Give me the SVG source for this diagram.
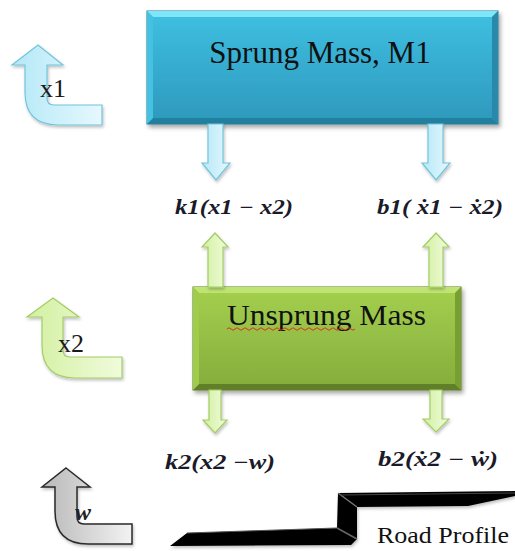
<svg xmlns="http://www.w3.org/2000/svg" width="515" height="551" viewBox="0 0 515 551">
<defs>
<linearGradient id="gBlue" x1="0" y1="0" x2="0" y2="1"><stop offset="0" stop-color="#3ec0e2"/><stop offset="1" stop-color="#2e98bc"/></linearGradient>
<linearGradient id="gGreen" x1="0" y1="0" x2="0" y2="1"><stop offset="0" stop-color="#a4d04e"/><stop offset="1" stop-color="#84ac3c"/></linearGradient>
<linearGradient id="gLB" x1="0" y1="0" x2="1" y2="0"><stop offset="0" stop-color="#b4e8f7"/><stop offset="1" stop-color="#e6f8fd"/></linearGradient>
<linearGradient id="gLG" x1="0" y1="0" x2="1" y2="0"><stop offset="0" stop-color="#d2f0a0"/><stop offset="1" stop-color="#f0fbdc"/></linearGradient>
<linearGradient id="gGr" x1="0" y1="0" x2="1" y2="0"><stop offset="0" stop-color="#b8b8b8"/><stop offset="1" stop-color="#f2f2f2"/></linearGradient>
<filter id="sh" x="-20%" y="-20%" width="150%" height="150%"><feDropShadow dx="2" dy="3" stdDeviation="2" flood-color="#000" flood-opacity="0.35"/></filter>
<filter id="sh2" x="-20%" y="-20%" width="150%" height="150%"><feDropShadow dx="1" dy="2" stdDeviation="1.5" flood-color="#000" flood-opacity="0.25"/></filter>
</defs>
<style>
.title{font-family:"Liberation Serif",serif;fill:#111;}
.math{font-family:"Liberation Serif",serif;font-style:italic;font-weight:bold;font-size:20px;fill:#1a1a2a;}
.lbl{font-family:"Liberation Serif",serif;font-size:26px;fill:#1a1a1a;}
.ab{fill:url(#gLB);stroke:#72c4dc;stroke-width:1.2;filter:url(#sh2);}
.ag{fill:url(#gLG);stroke:#a4cc66;stroke-width:1.2;filter:url(#sh2);}
</style>
<rect width="515" height="551" fill="#fff"/>

<g id="sprung-mass">
<g filter="url(#sh)">
<rect x="147" y="11" width="351" height="113" fill="url(#gBlue)" stroke="#237d9c" stroke-width="1"/>
</g>
<polygon points="147,11 498,11 492,17 153,17" fill="#7fe6f8"/>
<polygon points="147,124 498,124 492,118 153,118" fill="#22809f"/>
<polygon points="147,11 153,17 153,118 147,124" fill="#45c2e2"/>
<polygon points="498,11 492,17 492,118 498,124" fill="#2889aa"/>
<text class="title" x="320" y="63" font-size="31" text-anchor="middle">Sprung Mass, M1</text>
</g>

<g id="unsprung-mass">
<g filter="url(#sh)">
<rect x="193" y="287" width="268" height="103" fill="url(#gGreen)" stroke="#5d7d24" stroke-width="1"/>
</g>
<polygon points="193,287 461,287 455,293 199,293" fill="#bfe474"/>
<polygon points="193,390 461,390 455,384 199,384" fill="#617f28"/>
<polygon points="193,287 199,293 199,384 193,390" fill="#a0cc4c"/>
<polygon points="461,287 455,293 455,384 461,390" fill="#779f32"/>
<text class="title" x="227" y="325" font-size="30" textLength="199" lengthAdjust="spacingAndGlyphs">Unsprung Mass</text>
<path d="M227,329 q2,-2.5 4,0 t4,0 t4,0 t4,0 t4,0 t4,0 t4,0 t4,0 t4,0 t4,0 t4,0 t4,0 t4,0 t4,0 t4,0 t4,0 t4,0 t4,0 t4,0 t4,0 t4,0 t4,0 t4,0 t4,0 t4,0 t4,0 t4,0 t4,0 t4,0 t4,0 t4,0 t4,0" fill="none" stroke="#e03020" stroke-width="1"/>
</g>

<g id="x1-arrow">
<path class="ab" d="M38,45 L63,65 H47 V98 Q47,105 54,105 H102 V125 H58 Q25,125 25,92 V65 H12 Z"/>
<text class="lbl" x="40" y="97">x1</text>
</g>

<g id="x2-arrow">
<path class="ag" d="M53,298 L79,317 H63 V350 Q63,357 70,357 H122 V378 H75 Q42,378 42,345 V317 H27 Z"/>
<text class="lbl" x="58" y="352">x2</text>
</g>

<g id="w-arrow">
<path d="M66,468 L90,487 H77 V517 Q77,524 84,524 H132 V544 H88 Q55,544 55,511 V487 H42 Z" fill="url(#gGr)" stroke="#2a2a2a" stroke-width="1.5" filter="url(#sh2)"/>
<text x="75" y="520" font-family="Liberation Serif, serif" font-style="italic" font-weight="bold" font-size="24" fill="#222">w</text>
</g>

<g id="road-profile">
<polygon points="170,546 187,533 337,528 338,493 515,491 515,496 468,506 357,507 357,539 351,545" fill="#000" filter="url(#sh2)"/>
<polyline points="187,533 337,528" fill="none" stroke="#555" stroke-width="1"/>
<line x1="338" y1="493" x2="357" y2="507" stroke="#777" stroke-width="1.5"/>
<line x1="337" y1="528" x2="357" y2="539" stroke="#666" stroke-width="1.5"/>
<line x1="340" y1="495" x2="515" y2="493" stroke="#444" stroke-width="1"/>
<text class="title" x="377" y="543" font-size="24" textLength="132" lengthAdjust="spacingAndGlyphs">Road Profile</text>
</g>

<g id="connectors">
<path class="ab" d="M208,124 H223 V163 H230 L216,180 L202,163 H208 Z"/>
<path class="ab" d="M428,124 H443 V163 H450 L436,180 L422,163 H428 Z"/>
<path class="ag" d="M215,233 L228,247 H223 V287 H208 V247 H202 Z"/>
<path class="ag" d="M436,233 L449,247 H443 V287 H429 V247 H423 Z"/>
<path class="ag" d="M209,390 H221 V420 H227 L215,433 L203,420 H209 Z"/>
<path class="ag" d="M430,390 H442 V419 H449 L436,432 L423,419 H430 Z"/>
</g>

<g id="labels">
<text class="math" x="175" y="214" textLength="118" lengthAdjust="spacingAndGlyphs">k1(x1 − x2)</text>
<text class="math" x="377" y="214" textLength="126" lengthAdjust="spacingAndGlyphs">b1( ẋ1 −  ẋ2)</text>
<text class="math" x="165" y="469" textLength="110" lengthAdjust="spacingAndGlyphs">k2(x2 −w)</text>
<text class="math" x="378" y="466" textLength="120" lengthAdjust="spacingAndGlyphs">b2(ẋ2  −  ẇ)</text>
</g>
</svg>
